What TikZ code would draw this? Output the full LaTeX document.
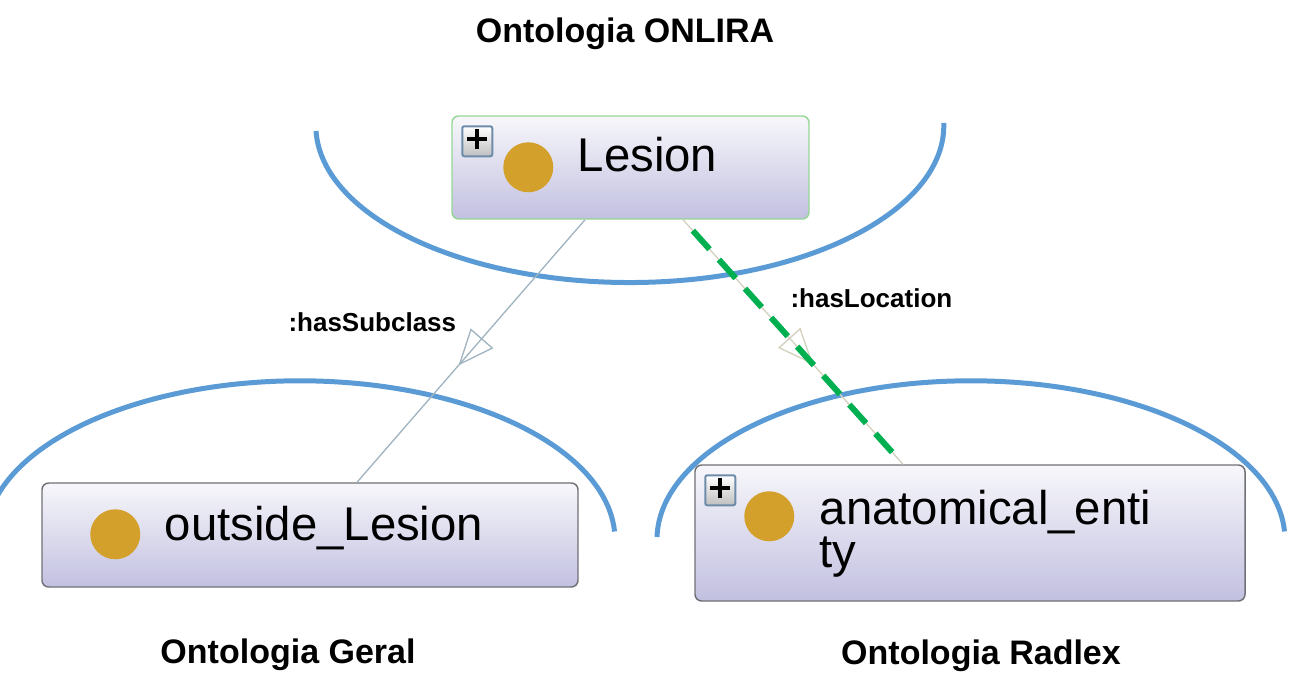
\documentclass[tikz,border=0pt]{standalone}
\usepackage{fontspec}
\setmainfont{Liberation Sans}
\usetikzlibrary{arrows.meta,calc,decorations.markings}

\definecolor{arcblue}{RGB}{91,155,213}
\definecolor{boxtop}{RGB}{247,247,251}
\definecolor{boxbottom}{RGB}{194,192,224}
\definecolor{boxline}{RGB}{112,112,118}
\definecolor{lesiongreen}{RGB}{150,214,150}
\definecolor{dotgold}{RGB}{212,160,44}
\definecolor{subgray}{RGB}{160,180,192}
\definecolor{locbeige}{RGB}{212,208,190}
\definecolor{locgreen}{RGB}{0,176,80}
\definecolor{plusframe}{RGB}{110,140,170}

\tikzset{every picture/.style={line width=0.75pt}}
\tikzset{
  ontarc/.style={color=arcblue, line width=3.75pt},
  classbox/.style={rectangle, rounded corners=5pt, inner sep=0pt, draw=boxline, line width=1.1pt,
    top color=boxtop, bottom color=boxbottom},
  golddot/.style={circle, fill=dotgold, inner sep=0pt, minimum size=37.5pt},
  plusbtn/.style={rectangle, rounded corners=1.5pt, inner sep=0pt, minimum size=22.5pt,
    draw=plusframe, line width=1.5pt, top color=white, bottom color=black!25,
    path picture={\draw[black, line width=3pt]
      ([yshift=1.5pt]path picture bounding box.center) ++(-7.5pt,0) -- ++(15pt,0)
      ([yshift=1.5pt]path picture bounding box.center) ++(0,-7.5pt) -- ++(0,15pt);}},
  classtext/.style={anchor=base west, inner sep=0pt, font=\fontsize{35.5}{32.25}\selectfont},
  edgelabel/.style={anchor=base west, inner sep=0pt, font=\fontsize{19.5}{22}\selectfont\bfseries},
  ontlabel/.style={anchor=base, inner sep=0pt, font=\fontsize{25.5}{30}\selectfont\bfseries},
  midtri/.style={postaction={decorate}, decoration={markings, mark=at position #1 with
    {\arrow[line width=1pt]{Triangle[open,length=27pt,width=22.5pt]}}}},
  subline/.style={color=subgray, line width=1pt},
  locline/.style={color=locbeige, line width=1pt},
  locdash/.style={color=locgreen, line width=4.5pt, dash pattern=on 18.75pt off 10.5pt,
    shorten <=11pt, shorten >=12pt}
}

\begin{document}
\begin{tikzpicture}[x=0.75pt,y=0.75pt,yscale=-1,xscale=1]
    \useasboundingbox (0,0) rectangle (1291,676);

    %Shape: Arc ONLIRA
    \draw [ontarc] (316,131) arc [start angle=178, end angle=-1, x radius=314, y radius=157];
    %Shape: Arc Geral
    \draw [ontarc] (-5,500) arc [start angle=194.5, end angle=357, x radius=315, y radius=159];
    %Shape: Arc Radlex
    \draw [ontarc] (657,537) arc [start angle=181, end angle=357, x radius=314, y radius=159];

    %Rounded Rect: classes
    \node [classbox, draw=lesiongreen, minimum width=267.75pt, minimum height=77.25pt] (lesion) at (630.5,167.5) {};
    \node [classbox, minimum width=402pt, minimum height=78pt] (outside) at (310,535) {};
    \node [classbox, minimum width=412.5pt, minimum height=102pt] (anatomical) at (970,533) {};

    %Shape: Circle
    \node [golddot] (lesiondot) at ($(lesion.north west)+(77,52)$) {};
    \node [golddot] (outsidedot) at ($(outside.north west)+(74,52)$) {};
    \node [golddot] (anatomicaldot) at ($(anatomical.north west)+(75,52)$) {};

    %Shape: Expand buttons
    \node [plusbtn] (lesionplus) at ($(lesion.north west)+(26,26)$) {};
    \node [plusbtn] (anatomicalplus) at ($(anatomical.north west)+(26,26)$) {};

    %Straight Lines: hasSubclass
    \draw [subline, midtri=0.555] ($(lesion.south)+(-45.5,0)$) -- ($(outside.north)+(47,0)$);
    %Straight Lines: hasLocation
    \draw [locline, midtri=0.592] ($(lesion.south)+(52.5,0)$) -- ($(anatomical.north)+(-67,0)$);
    \draw [locdash] ($(lesion.south)+(52.5,0)$) -- ($(anatomical.north)+(-67,0)$);

    % Text Node
    \node [classtext] (lesiontext) at ($(lesion.north west)+(126,56)$) {Lesion};
    % Text Node
    \node [classtext] (outsidetext) at ($(outside.north west)+(123,58)$) {outside\_Lesion};
    % Text Node
    \node [classtext, align=left] (anatomicaltext) at ($(anatomical.north west)+(125,103)$) {anatomical\_enti\\ty};
    % Text Node
    \node [edgelabel] (sublabel) at (288,331) {:hasSubclass};
    % Text Node
    \node [edgelabel] (loclabel) at (790,307) {:hasLocation};
    % Text Node
    \node [ontlabel] (onlira) at (625,42) {Ontologia ONLIRA};
    % Text Node
    \node [ontlabel] (geral) at (288,663) {Ontologia Geral};
    % Text Node
    \node [ontlabel] (radlex) at (981,664) {Ontologia Radlex};

\end{tikzpicture}
\end{document}
